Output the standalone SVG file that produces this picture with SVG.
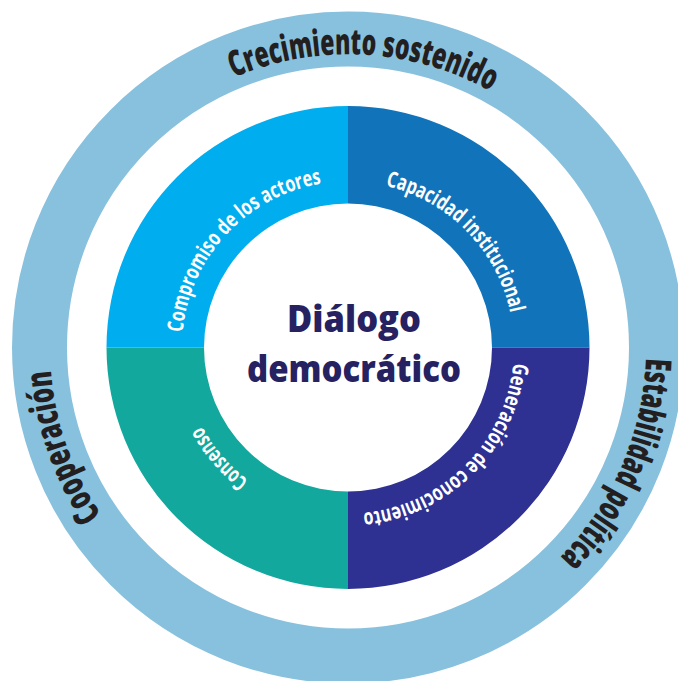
<svg xmlns="http://www.w3.org/2000/svg" xmlns:xlink="http://www.w3.org/1999/xlink" width="678" height="681" viewBox="0 0 678 681">
<style>
.outer{font-family:"Open Sans","Liberation Sans",sans-serif;font-weight:800;font-size:36px;fill:#231F20}
.inner{font-family:"Open Sans","Liberation Sans",sans-serif;font-weight:700;font-size:22px;fill:#FFFFFF}
.center{font-family:"Open Sans","Liberation Sans",sans-serif;font-weight:800;font-size:37px;fill:#262262}
</style>
<defs>
<path id="c293" d="M 641,347.5 A 293 293 0 1 1 55,347.5 A 293 293 0 1 1 641,347.5"/>
<path id="c298" d="M 646,347.5 A 298 298 0 1 1 50,347.5 A 298 298 0 1 1 646,347.5"/>
<path id="c166" d="M 514,347.5 A 166 166 0 1 1 182,347.5 A 166 166 0 1 1 514,347.5"/>
</defs>
<rect width="678" height="681" fill="#FFFFFF"/>
<g id="outer-ring">
<circle cx="348" cy="347.5" r="308.5" fill="none" stroke="#88C1DE" stroke-width="55"/>
<text class="outer" text-anchor="middle"><textPath xlink:href="#c293" href="#c293" startOffset="75.86%" textLength="266" lengthAdjust="spacingAndGlyphs">Crecimiento sostenido</textPath></text>
<text class="outer" text-anchor="middle"><textPath xlink:href="#c298" href="#c298" startOffset="6.5%" textLength="222" lengthAdjust="spacingAndGlyphs">Estabilidad política</textPath></text>
<text class="outer" text-anchor="middle"><textPath xlink:href="#c298" href="#c298" startOffset="44.64%" textLength="155" lengthAdjust="spacingAndGlyphs">Cooperación</textPath></text>
</g>
<g id="compromiso">
<path d="M 106.5,347.5 A 241.5 241.5 0 0 1 348,106 L 348,203.5 A 144 144 0 0 0 204,347.5 Z" fill="#00ADEE"/>
<text class="inner" text-anchor="middle"><textPath xlink:href="#c166" href="#c166" startOffset="61.94%" textLength="219" lengthAdjust="spacingAndGlyphs">Compromiso de los actores</textPath></text>
</g>
<g id="capacidad">
<path d="M 348,106 A 241.5 241.5 0 0 1 589.5,347.5 L 492,347.5 A 144 144 0 0 0 348,203.5 Z" fill="#1174BB"/>
<text class="inner" text-anchor="middle"><textPath xlink:href="#c166" href="#c166" startOffset="87.65%" textLength="188" lengthAdjust="spacingAndGlyphs">Capacidad institucional</textPath></text>
</g>
<g id="generacion">
<path d="M 589.5,347.5 A 241.5 241.5 0 0 1 348,589 L 348,491.5 A 144 144 0 0 0 492,347.5 Z" fill="#2E3192"/>
<text class="inner" text-anchor="middle"><textPath xlink:href="#c166" href="#c166" startOffset="12.53%" textLength="230" lengthAdjust="spacingAndGlyphs">Generación de conocimiento</textPath></text>
</g>
<g id="consenso">
<path d="M 348,589 A 241.5 241.5 0 0 1 106.5,347.5 L 204,347.5 A 144 144 0 0 0 348,491.5 Z" fill="#12A89D"/>
<text class="inner" text-anchor="middle"><textPath xlink:href="#c166" href="#c166" startOffset="38.69%" textLength="72" lengthAdjust="spacingAndGlyphs">Consenso</textPath></text>
</g>
<g id="dialogo">
<text class="center" x="354" y="332" text-anchor="middle" textLength="134" lengthAdjust="spacingAndGlyphs">Diálogo</text>
<text class="center" x="354" y="382" text-anchor="middle" textLength="214" lengthAdjust="spacingAndGlyphs">democrático</text>
</g>
<g id="connectors"/>
</svg>
